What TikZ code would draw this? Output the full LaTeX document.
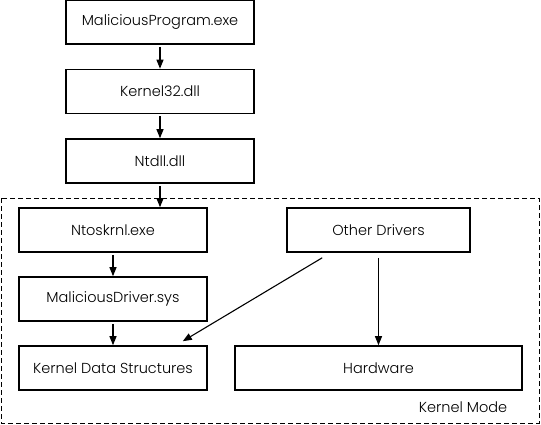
\documentclass[tikz,border=0pt]{standalone}
\usepackage{fontspec}
\setmainfont{Poppins}[UprightFont=* Light]
\usetikzlibrary{arrows.meta}
\tikzset{
  box/.style={draw, line width=1.6pt, minimum height=44pt, inner sep=0pt, font=\fontsize{14.5}{17}\selectfont},
  arr/.style={-{Triangle[length=9pt,width=7pt]}, line width=1.1pt, shorten <=2pt}
}

\begin{document}
\begin{tikzpicture}[x=1pt,y=-1pt]
\useasboundingbox (0,0) rectangle (541,425);
% user mode
\node[box, minimum width=188pt] (prog) at (160,22) {MaliciousProgram.exe};
\node[box, minimum width=188pt] (k32) at (160,91.5) {Kernel32.dll};
\node[box, minimum width=188pt] (ntdll) at (160,161) {Ntdll.dll};
% kernel mode
\draw[dash pattern=on 5pt off 3pt, line width=0.8pt] (1,198) rectangle (539,423);
\node[box, minimum width=188pt] (ntos) at (113,230) {Ntoskrnl.exe};
\node[box, minimum width=188pt] (mdrv) at (113,299) {MaliciousDriver.sys};
\node[box, minimum width=188pt] (kds) at (113,368) {Kernel Data Structures};
\node[box, minimum width=183pt] (other) at (378.5,230) {Other Drivers};
\node[box, minimum width=287pt] (hw) at (378.5,368) {Hardware};
\node[font=\fontsize{14.5}{17}\selectfont] (kmode) at (463,407) {Kernel Mode};
% calls
\draw[arr] (prog) -- (k32);
\draw[arr] (k32) -- (ntdll);
\draw[arr] (ntdll.south) -- (ntdll.south |- ntos.north);
\draw[arr] (ntos) -- (mdrv);
\draw[arr] (mdrv) -- (kds);
\draw[arr, shorten <=5pt] (other.south) -- (hw.north);
\draw[arr, shorten <=0pt] ([xshift=36pt,yshift=-5pt]other.south west) -- ([xshift=-25pt,yshift=4pt]kds.north east);
\end{tikzpicture}
\end{document}
